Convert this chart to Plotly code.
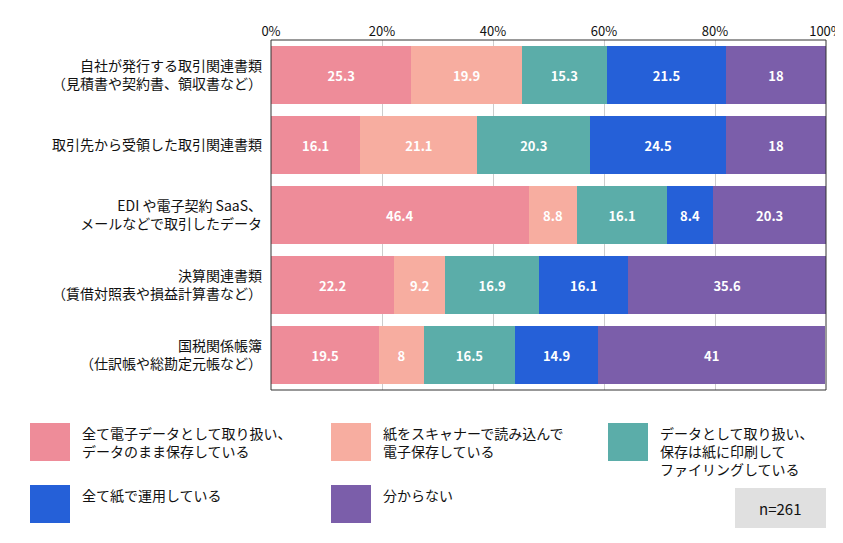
import plotly.graph_objects as go

categories = [
    "自社が発行する取引関連書類<br>（見積書や契約書、領収書など）",
    "取引先から受領した取引関連書類",
    "EDI や電子契約 SaaS、<br>メールなどで取引したデータ",
    "決算関連書類<br>（賃借対照表や損益計算書など）",
    "国税関係帳簿<br>（仕訳帳や総勘定元帳など）",
]
series_names = [
    "全て電子データとして取り扱い、<br>データのまま保存している",
    "紙をスキャナーで読み込んで<br>電子保存している",
    "データとして取り扱い、<br>保存は紙に印刷して<br>ファイリングしている",
    "全て紙で運用している",
    "分からない",
]
values = [
    [25.3, 16.1, 46.4, 22.2, 19.5],
    [19.9, 21.1, 8.8, 9.2, 8],
    [15.3, 20.3, 16.1, 16.9, 16.5],
    [21.5, 24.5, 8.4, 16.1, 14.9],
    [18, 18, 20.3, 35.6, 41],
]
colors = ["#EE8C99", "#F7ADA0", "#5BADA9", "#2560D8", "#7B5EAA"]
note = "n=261"

FONT = "Noto Sans CJK JP"
L, R, T, B = 263, 25, 32, 161
PW, PH = 843 - L - R, 543 - T - B


def px(x):
    return (x - L) / PW


def py(y):
    return (543 - B - y) / PH


fig = go.Figure()
for name, vals, c in zip(series_names, values, colors):
    fig.add_trace(go.Bar(
        y=categories, x=vals, orientation="h", name=name,
        marker=dict(color=c, line=dict(width=0)),
        text=[f"<b>{v:g}</b>" for v in vals], textposition="inside",
        insidetextanchor="middle",
        textfont=dict(color="white", size=13, family=FONT),
        showlegend=False,
    ))

shapes = [dict(type="rect", xref="paper", yref="paper", x0=0, x1=1, y0=0, y1=1,
               line=dict(color="#333", width=1))]
annotations = []
legend_pos = [(22, 415), (323, 415), (600, 415), (22, 477), (323, 477)]
for (lx, ly), name, c in zip(legend_pos, series_names, colors):
    shapes.append(dict(type="rect", xref="paper", yref="paper",
                       x0=px(lx), x1=px(lx + 40), y0=py(ly + 38), y1=py(ly),
                       fillcolor=c, line=dict(width=0)))
    annotations.append(dict(xref="paper", yref="paper", x=px(lx + 50), y=py(ly - 2),
                            xanchor="left", yanchor="top", align="left", showarrow=False,
                            text=name, font=dict(size=14, color="#111", family=FONT)))
shapes.append(dict(type="rect", xref="paper", yref="paper",
                   x0=px(727), x1=px(818), y0=py(520), y1=py(480),
                   fillcolor="#E0E0E0", line=dict(width=0)))
annotations.append(dict(xref="paper", yref="paper", x=px(772), y=py(500),
                        xanchor="center", yanchor="middle",
                        showarrow=False, text=note,
                        font=dict(size=15, color="#111", family=FONT)))

fig.update_layout(
    barmode="stack", bargap=0.17,
    width=843, height=543,
    margin=dict(l=L, r=R, t=T, b=B),
    paper_bgcolor="white", plot_bgcolor="white",
    font=dict(family=FONT, color="#111"),
    xaxis=dict(range=[0, 100], side="top", tickvals=[0, 20, 40, 60, 80, 100],
               ticktext=["0%", "20%", "40%", "60%", "80%", "100%"],
               showgrid=True, gridcolor="#ccc", zeroline=False, ticks="",
               tickfont=dict(size=13), automargin=False),
    yaxis=dict(autorange="reversed", tickfont=dict(size=14), ticks="",
               ticklabelstandoff=8, automargin=False),
    shapes=shapes, annotations=annotations,
)
fig.write_html("out.html")
